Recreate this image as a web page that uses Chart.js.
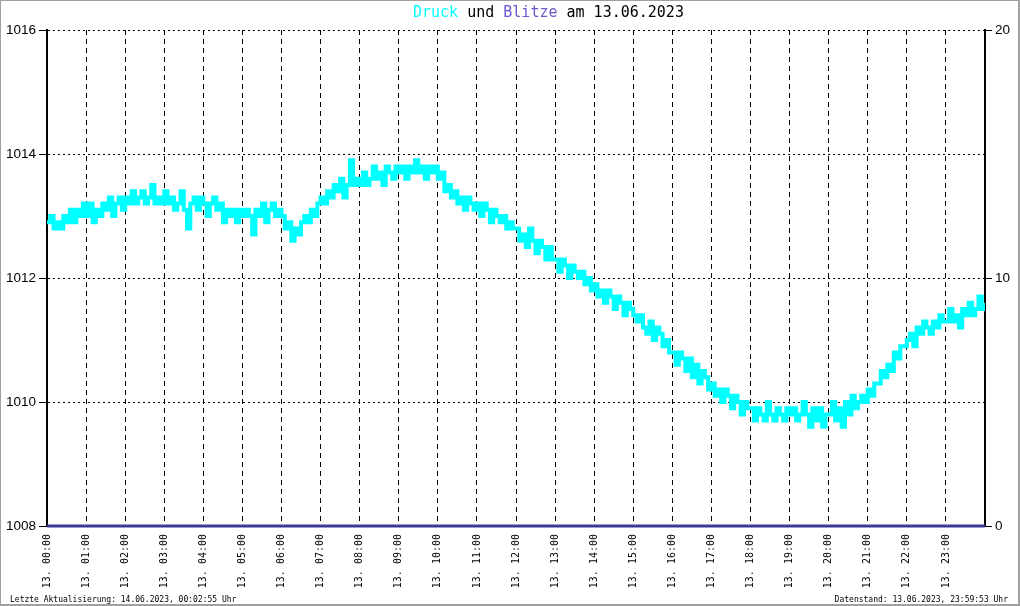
<!DOCTYPE html>
<html><head><meta charset="utf-8">
<script src="https://cdn.jsdelivr.net/npm/chart.js@4.4.0/dist/chart.umd.min.js"></script>
<style>
html,body{margin:0;padding:0;background:#fff;}
#wrap{position:relative;width:1020px;height:606px;overflow:hidden;background:#fff;}
#c{position:absolute;left:0;top:0;}
#frame{position:absolute;left:0;top:0;width:1020px;height:606px;box-sizing:border-box;border-style:solid;border-color:#a0a0a0;border-width:1px 2px 2px 1px;pointer-events:none;}
#title{position:absolute;left:413px;top:5px;font:15px/15px "DejaVu Sans Mono",monospace;white-space:pre;color:#000;}
.foot{position:absolute;top:596px;font:8px/8px "DejaVu Sans Mono",monospace;white-space:pre;color:#000;}
</style></head>
<body><div id="wrap"><canvas id="c" width="1020" height="606"></canvas>
<div id="title"><span style="color:#00ffff">Druck</span> und <span style="color:#6a5acd">Blitze</span> am 13.06.2023</div>
<div class="foot" style="left:10px">Letzte Aktualisierung: 14.06.2023, 00:02:55 Uhr</div>
<div class="foot" style="right:12px">Datenstand: 13.06.2023, 23:59:53 Uhr</div>
<div id="frame"></div></div>
<script>
// x tick labels (one per hour)
const xLabels = ['13. 00:00','13. 01:00','13. 02:00','13. 03:00','13. 04:00','13. 05:00','13. 06:00','13. 07:00','13. 08:00','13. 09:00','13. 10:00','13. 11:00','13. 12:00','13. 13:00','13. 14:00','13. 15:00','13. 16:00','13. 17:00','13. 18:00','13. 19:00','13. 20:00','13. 21:00','13. 22:00','13. 23:00'];
const yTicks = [1008,1010,1012,1014,1016];
const y2Ticks = [0,10,20];

// Druck (hPa), 5-minute readings
const pressure00to05 = [
 1012.9,1013.0,1012.8,1012.9,1012.8,1013.0,1012.9,1013.1,1012.9,1013.1,1013.0,1013.2,
 1013.0,1013.2,1012.9,1013.1,1013.0,1013.2,1013.1,1013.3,1013.0,1013.2,1013.3,1013.1,
 1013.3,1013.2,1013.4,1013.2,1013.3,1013.4,1013.2,1013.3,1013.5,1013.2,1013.3,1013.2,
 1013.4,1013.2,1013.3,1013.1,1013.2,1013.4,1013.1,1012.8,1013.2,1013.3,1013.1,1013.3,
 1013.2,1013.0,1013.2,1013.3,1013.1,1013.2,1012.9,1013.1,1013.0,1013.1,1012.9,1013.1,
 1013.0,1013.1,1013.0,1012.7,1013.1,1013.0,1013.2,1012.9,1013.1,1013.2,1013.0,1013.1];
const pressure06to11 = [
 1013.0,1012.8,1012.9,1012.6,1012.8,1012.7,1012.9,1013.0,1012.9,1013.1,1013.0,1013.2,
 1013.3,1013.2,1013.4,1013.3,1013.5,1013.4,1013.6,1013.3,1013.5,1013.9,1013.5,1013.6,
 1013.5,1013.7,1013.5,1013.6,1013.8,1013.6,1013.7,1013.5,1013.8,1013.7,1013.6,1013.8,
 1013.7,1013.8,1013.6,1013.8,1013.7,1013.9,1013.7,1013.8,1013.6,1013.8,1013.7,1013.8,
 1013.6,1013.7,1013.4,1013.5,1013.3,1013.4,1013.2,1013.3,1013.1,1013.3,1013.2,1013.1,
 1013.2,1013.0,1013.2,1013.1,1012.9,1013.1,1013.0,1012.9,1013.0,1012.8,1012.9,1012.8];
const pressure12to17 = [
 1012.8,1012.6,1012.7,1012.5,1012.8,1012.6,1012.4,1012.6,1012.5,1012.3,1012.5,1012.3,
 1012.3,1012.1,1012.3,1012.2,1012.0,1012.2,1012.1,1012.0,1012.1,1011.9,1012.0,1011.8,
 1011.9,1011.7,1011.8,1011.6,1011.8,1011.7,1011.5,1011.7,1011.6,1011.4,1011.6,1011.5,
 1011.4,1011.3,1011.4,1011.2,1011.1,1011.3,1011.0,1011.2,1011.1,1010.9,1011.0,1010.8,
 1010.8,1010.6,1010.8,1010.7,1010.5,1010.7,1010.4,1010.6,1010.3,1010.5,1010.4,1010.2,
 1010.3,1010.1,1010.2,1010.0,1010.2,1010.1,1009.9,1010.1,1010.0,1009.8,1010.0,1009.9];
const pressure18to23 = [
 1009.9,1009.7,1009.9,1009.8,1009.7,1010.0,1009.8,1009.7,1009.9,1009.8,1009.7,1009.9,
 1009.8,1009.9,1009.7,1009.8,1010.0,1009.8,1009.6,1009.9,1009.7,1009.9,1009.6,1009.8,
 1009.8,1010.0,1009.7,1009.9,1009.6,1010.0,1009.8,1010.1,1009.9,1010.0,1010.1,1010.0,
 1010.2,1010.1,1010.3,1010.3,1010.5,1010.4,1010.6,1010.5,1010.8,1010.7,1010.9,1010.9,
 1011.0,1011.1,1010.9,1011.2,1011.1,1011.3,1011.2,1011.1,1011.3,1011.2,1011.4,1011.3,
 1011.3,1011.5,1011.3,1011.4,1011.2,1011.5,1011.4,1011.6,1011.4,1011.5,1011.7,1011.5];
const pressureLast = 1011.6; // 23:59
// Blitze (count), hourly
const blitze = [0,0,0,0,0,0,0,0,0,0,0,0,0,0,0,0,0,0,0,0,0,0,0,0,0];

const allP = pressure00to05.concat(pressure06to11, pressure12to17, pressure18to23);
const druckData = allP.map((v,i)=>({x:i*5, y:v}));
druckData.push({x:1439, y:pressureLast});
const blitzData = blitze.map((v,i)=>({x:i*60, y:v}));

new Chart(document.getElementById('c'), {
  type:'line',
  data:{datasets:[
    {label:'Blitze', data:blitzData, yAxisID:'y2', xAxisID:'x', borderColor:'#3b3b9a', borderWidth:3, pointRadius:0, order:0, clip:false},
    {label:'Druck', data:druckData, yAxisID:'y', xAxisID:'x', borderColor:'#00ffff', borderWidth:4, pointRadius:0, stepped:true, order:1}
  ]},
  options:{
    responsive:false, animation:false, events:[],
    layout:{padding:{top:30,left:0,right:0,bottom:0}},
    plugins:{legend:{display:false}, tooltip:{enabled:false}, title:{display:false}},
    scales:{
      x:{type:'linear', min:0, max:1440,
        afterFit(s){ s.height = 80; },
        afterBuildTicks(s){ s.ticks = xLabels.map((_,i)=>({value:i*60})); },
        grid:{color:'#000', lineWidth:1, drawTicks:false},
        border:{display:true, color:'#000', width:1, dash:[5,4]},
        ticks:{autoSkip:false, minRotation:90, maxRotation:90, padding:8, color:'#000',
          font:{family:'DejaVu Sans Mono', size:10},
          callback:(v)=>xLabels[Math.round(v/60)]}
      },
      y:{position:'left', min:1008, max:1016,
        afterFit(s){ s.width = 47; },
        afterBuildTicks(s){ s.ticks = yTicks.map(v=>({value:v})); },
        grid:{color:'#000', lineWidth:1, drawTicks:true, tickLength:8, tickColor:'#000', tickBorderDash:[], tickWidth:1},
        border:{display:true, color:'#000', width:2, dash:[2,3]},
        ticks:{padding:3, color:'#000', font:{family:'Liberation Sans', size:13.5}, callback:(v)=>String(v)}
      },
      y2:{position:'right', min:0, max:20,
        afterFit(s){ s.width = 35; },
        afterBuildTicks(s){ s.ticks = y2Ticks.map(v=>({value:v})); },
        grid:{drawOnChartArea:false, drawTicks:true, tickLength:7, tickColor:'#000', color:'#000', tickBorderDash:[]},
        border:{display:true, color:'#000', width:2},
        ticks:{padding:3, color:'#000', font:{family:'Liberation Sans', size:13.5}, callback:(v)=>String(v)}
      }
    }
  }
});
</script>
</body></html>
